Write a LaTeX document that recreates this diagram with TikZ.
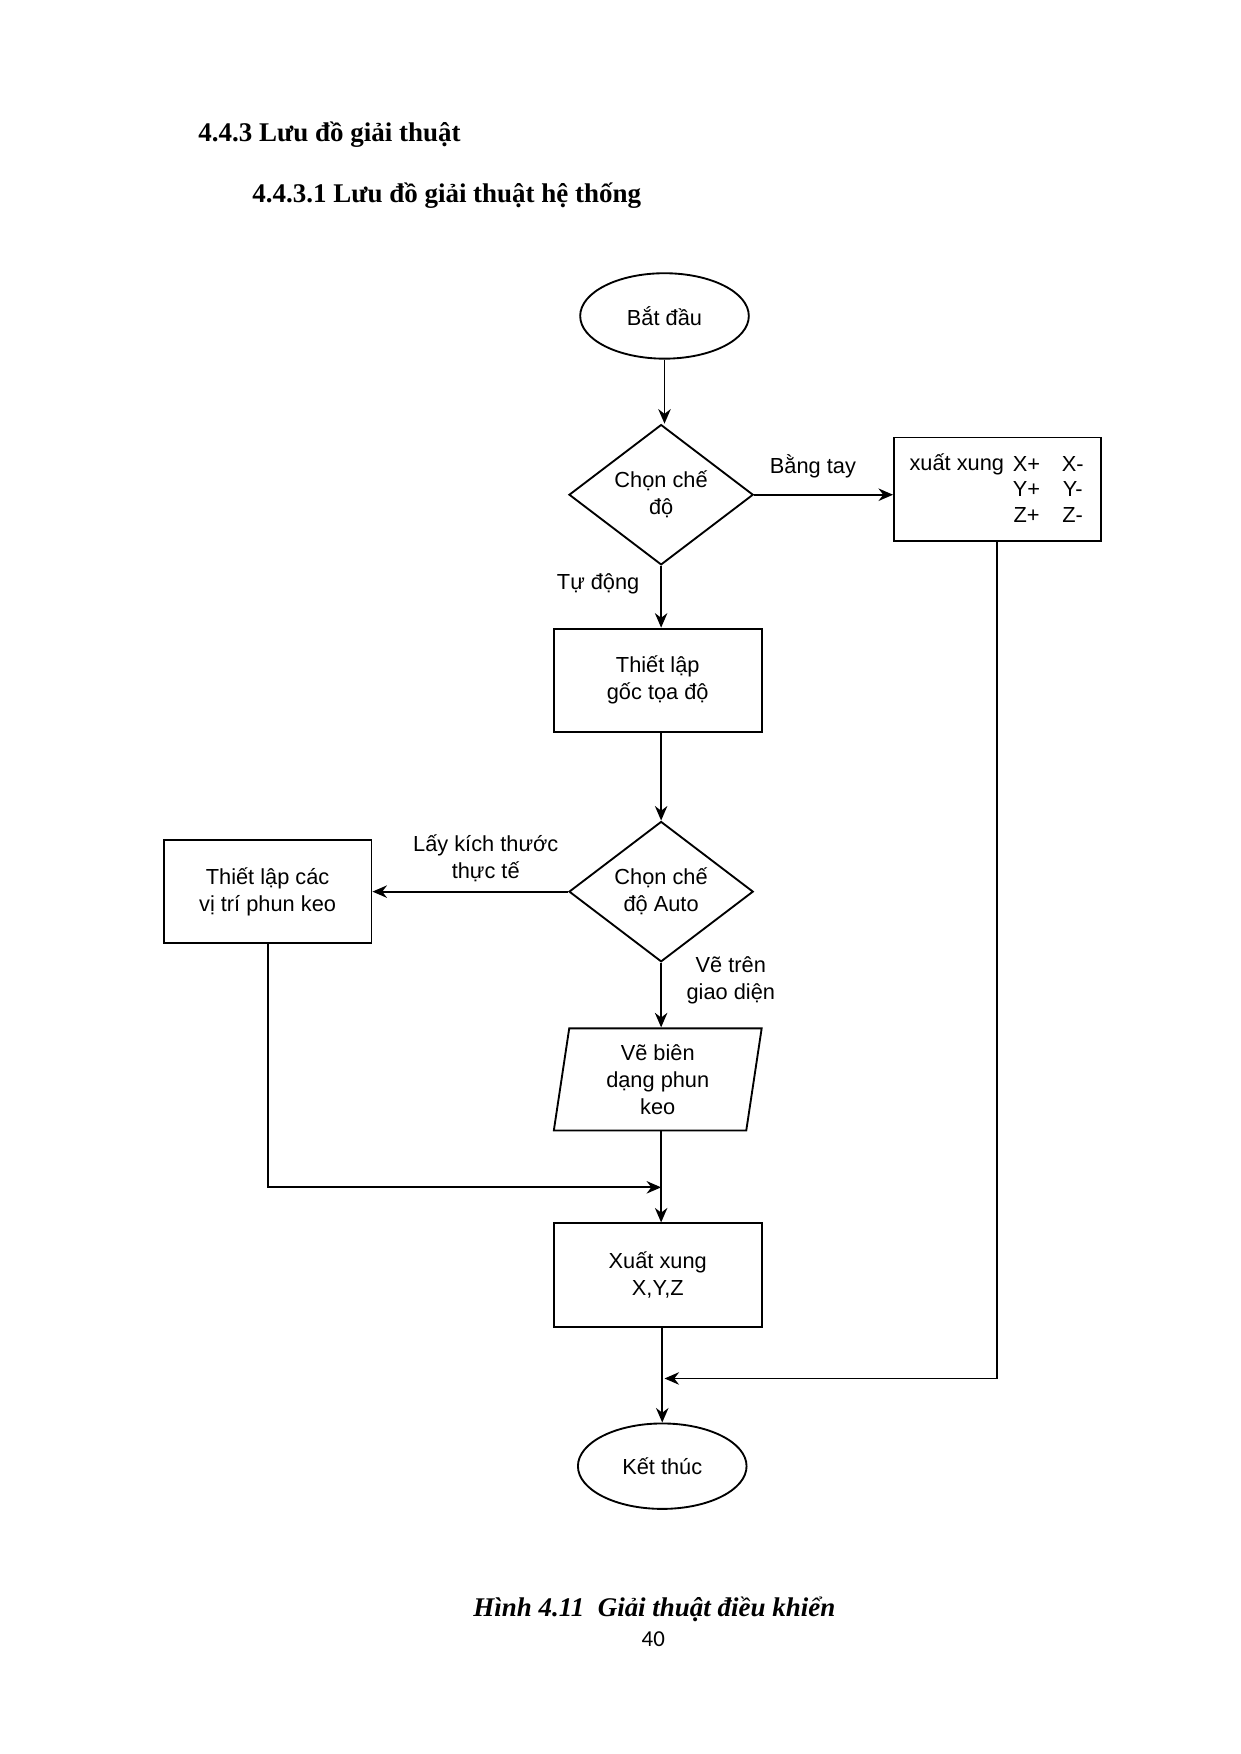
\documentclass[tikz,border=0pt]{standalone}
\usepackage{fontspec}
\setmainfont{Liberation Sans}
\newfontfamily\hdfont{Liberation Serif}
\newfontfamily\pgfont{Carlito}
\usetikzlibrary{shapes.geometric,arrows.meta}
\begin{document}
\begin{tikzpicture}[x=0.01904cm,y=-0.01904cm,
  every node/.style={font=\fontsize{10.5}{13}\selectfont, align=center},
  ln/.style={line width=0.9pt},
  arr/.style={ln,-{Stealth[length=7pt,width=6pt]}},
  term/.style={draw,ln,ellipse,minimum width=2.856cm,minimum height=1.447cm,inner sep=0pt},
  dec/.style={draw,ln,diamond,minimum width=3.12cm,minimum height=2.13cm,inner sep=0pt},
  box/.style={draw,ln,rectangle,minimum width=3.52cm,minimum height=1.75cm,inner sep=0pt},
  lab/.style={font=\fontsize{10.5}{13}\selectfont}]
\useasboundingbox (0,0) rectangle (1103,1560);
\node[anchor=west,font=\hdfont\bfseries\fontsize{13}{15}\selectfont] (h1) at (170,120) {4.4.3 Lưu đồ giải thuật};
\node[anchor=west,font=\hdfont\bfseries\fontsize{13}{15}\selectfont] (h2) at (218,174) {4.4.3.1 Lưu đồ giải thuật hệ thống};

\node[term] (start) at (591,281) {Bắt đầu};
\node[dec] (d1) at (588,440) {Chọn chế\\độ};
\node[box,minimum width=3.50cm] (xb) at (887,435) {};
\node (xt) at (851,413) {xuất xung};
\node at (913,413) {X+}; \node at (954,413) {X-};
\node at (913,435) {Y+}; \node at (954,435) {Y-};
\node at (913,458) {Z+}; \node at (954,458) {Z-};
\node[box] (b1) at (585,605) {Thiết lập\\gốc tọa độ};
\node[dec] (d2) at (588,793) {Chọn chế\\độ Auto};
\node[box] (lb) at (238,793) {Thiết lập các\\vị trí phun keo};
\node[draw,ln,trapezium,trapezium left angle=77.6,trapezium right angle=102.4,
  trapezium stretches body,minimum width=3.52cm,minimum height=1.73cm,inner sep=0pt] (pa) at (585,960) {Vẽ biên\\dạng phun\\keo};
\node[box] (b3) at (585,1134) {Xuất xung\\X,Y,Z};
\node[term] (end) at (589,1304) {Kết thúc};

\node[lab] (l1) at (723,415) {Bằng tay};
\node[lab] (l2) at (532,519) {Tự động};
\node[lab] (l3) at (432,763) {Lấy kích thước\\thực tế};
\node[lab] (l4) at (650,872) {Vẽ trên\\giao diện};

\coordinate (j1) at (588,1056);
\coordinate (j2) at (591,1226);

\draw[arr] (start.south) -- (start.south |- d1.north);
\draw[arr] (d1.east) -- (xb.west |- d1.east);
\draw[arr] (d1.south) -- (d1.south |- b1.north);
\draw[arr] (b1.south -| d2.north) -- (d2.north);
\draw[arr] (d2.west) -- (lb.east |- d2.west);
\draw[arr] (d2.south) -- (d2.south |- pa.north);
\draw[arr] (lb.south) -- (lb.south |- j1) -- (j1);
\draw[arr] (pa.south -| j1) -- (j1 |- b3.north);
\draw[arr] (xb.south) -- (xb.south |- j2) -- (j2);
\draw[arr] (b3.south -| end.north) -- (end.north);

\node[font=\hdfont\bfseries\itshape\fontsize{13}{15}\selectfont] (cap) at (582,1431) {Hình 4.11~~Giải thuật điều khiển};
\node[font=\pgfont\fontsize{11}{13}\selectfont] (pg) at (581,1458) {40};
\end{tikzpicture}
\end{document}
